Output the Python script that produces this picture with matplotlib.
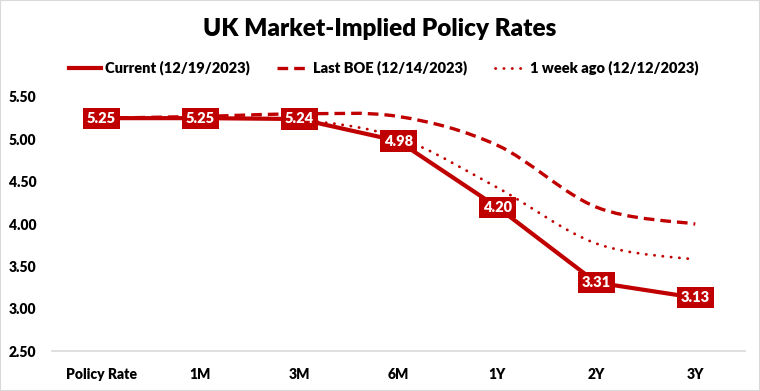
import numpy as np
import matplotlib
matplotlib.use("Agg")
import matplotlib.pyplot as plt
from matplotlib.path import Path
from matplotlib.patches import PathPatch, Rectangle
from matplotlib.lines import Line2D

plt.rcParams['font.family'] = ['Lato', 'DejaVu Sans']
plt.rcParams['font.weight'] = 'bold'

# dane
categories = ["Policy Rate", "1M", "3M", "6M", "1Y", "2Y", "3Y"]
current = [5.25, 5.25, 5.24, 4.98, 4.20, 3.31, 3.13]
last_boe = [5.25, 5.27, 5.30, 5.27, 4.93, 4.20, 4.00]
week_ago = [5.25, 5.25, 5.23, 5.02, 4.43, 3.77, 3.58]
yticks = [2.50, 3.00, 3.50, 4.00, 4.50, 5.00, 5.50]

RED = "#C00000"


def smooth_path(xs, ys):
    # krzywa jak "smoothed line" w Excelu (Catmull-Rom -> Bezier)
    pts = np.column_stack([xs, ys]).astype(float)
    n = len(pts)
    verts = [pts[0]]
    codes = [Path.MOVETO]
    for i in range(n - 1):
        p0 = pts[max(i - 1, 0)]
        p1 = pts[i]
        p2 = pts[i + 1]
        p3 = pts[min(i + 2, n - 1)]
        c1 = p1 + (p2 - p0) / 6.0
        c2 = p2 - (p3 - p1) / 6.0
        verts += [c1, c2, p2]
        codes += [Path.CURVE4] * 3
    return Path(verts, codes)


fig = plt.figure(figsize=(7.6, 3.91), dpi=100)
ax = fig.add_axes([0.068, 0.102, 0.912, 0.650])

x = np.arange(len(categories))

p1 = PathPatch(smooth_path(x, last_boe), fill=False, ec=RED, lw=2.4,
               linestyle=(0, (3.2, 1.8)), zorder=2, clip_on=False)
p1.set_capstyle('butt')
ax.add_patch(p1)
p2 = PathPatch(smooth_path(x, week_ago), fill=False, ec=RED, lw=2.0,
               linestyle=(0, (0.1, 2.9)), zorder=2, clip_on=False)
p2.set_capstyle('round')
ax.add_patch(p2)

ax.plot(x, current, color=RED, lw=3.0, zorder=3, clip_on=False)

for xi, v in zip(x, current):
    ax.text(xi, v, f"{v:.2f}", ha='center', va='center', color='white',
            fontsize=10.5, fontweight='heavy', zorder=5,
            bbox=dict(boxstyle='square,pad=0.28', fc=RED, ec='none'))

ax.set_xlim(-0.5, len(categories) - 0.5)
ax.set_ylim(2.5, 5.5)
ax.set_xticks(x)
ax.set_xticklabels(categories, fontweight='heavy')
ax.set_yticks(yticks)
ax.set_yticklabels([f"{t:.2f}" for t in yticks], fontweight='heavy')
ax.tick_params(length=0, labelsize=10)
ax.tick_params(axis='x', pad=12)
ax.tick_params(axis='y', pad=11)
for s in ['top', 'right', 'left']:
    ax.spines[s].set_visible(False)
ax.spines['bottom'].set_color('#D9D9D9')
ax.spines['bottom'].set_linewidth(1.2)

fig.text(0.5, 0.927, "UK Market-Implied Policy Rates", ha='center', va='center',
         fontsize=17.5, fontweight='heavy')

handles = [
    Line2D([], [], color=RED, lw=3.0),
    Line2D([], [], color=RED, lw=2.4, linestyle=(0, (3.2, 1.8))),
    Line2D([], [], color=RED, lw=2.0, linestyle=(0, (0.1, 2.9)), dash_capstyle='round'),
]
labels = ["Current (12/19/2023)", "Last BOE (12/14/2023)", "1 week ago (12/12/2023)"]
leg = fig.legend(handles, labels, loc='center', bbox_to_anchor=(0.505, 0.826), ncol=3,
                 frameon=False, prop={'size': 10.5, 'weight': 'heavy'},
                 handlelength=2.2, handletextpad=0.25, columnspacing=1.9)

fig.patches.append(Rectangle((0, 0), 1, 1, transform=fig.transFigure, fill=False,
                             ec='#D9D9D9', lw=1.5))

fig.savefig("out.png", dpi=100)
